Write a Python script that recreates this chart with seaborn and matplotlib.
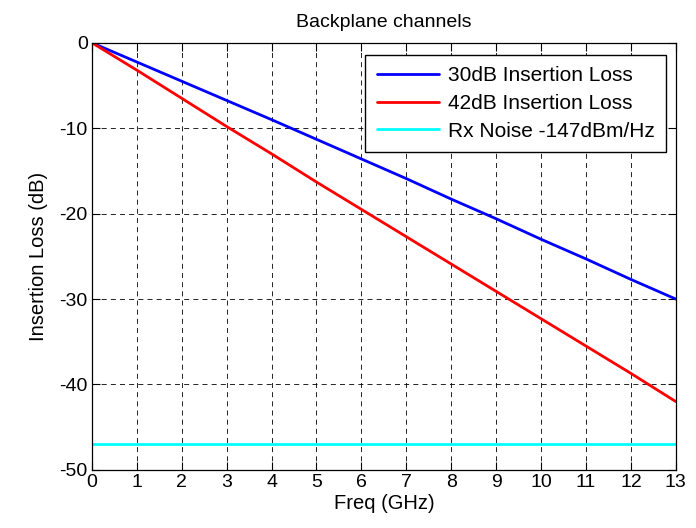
import numpy as np
import pandas as pd
import seaborn as sns
import matplotlib.pyplot as plt

freq = [0, 1, 2, 3, 4, 5, 6, 7, 8, 9, 10, 11, 12, 13]
loss_30db = [0, -2.25, -4.5, -6.75, -9.0, -11.3, -13.6, -15.9, -18.3, -20.6, -23.0, -25.3, -27.7, -30.0]
loss_42db = [0, -3.2, -6.5, -9.8, -13.0, -16.3, -19.5, -22.7, -25.9, -29.1, -32.3, -35.5, -38.7, -42.0]
noise_level = [-47] * len(freq)
labels = ['30dB Insertion Loss', '42dB Insertion Loss', 'Rx Noise -147dBm/Hz']
colors = ['#0000ff', '#ff0000', '#00ffff']

df = pd.DataFrame({
    'freq': freq * 3,
    'loss': loss_30db + loss_42db + noise_level,
    'series': [labels[0]] * len(freq) + [labels[1]] * len(freq) + [labels[2]] * len(freq),
})

sns.set_style('ticks')
plt.rcParams['font.family'] = ['Liberation Sans', 'DejaVu Sans']
plt.rcParams['axes.unicode_minus'] = False
plt.rcParams['text.color'] = 'black'
plt.rcParams['axes.labelcolor'] = 'black'
plt.rcParams['xtick.color'] = 'black'
plt.rcParams['ytick.color'] = 'black'

fig = plt.figure(figsize=(6.96, 5.28), dpi=100)
ax = fig.add_axes([0.132, 0.110, 0.839, 0.809])

sns.lineplot(data=df, x='freq', y='loss', hue='series', palette=colors,
             hue_order=labels, linewidth=2, ax=ax, legend=True)

ax.set_xlim(0, 13)
ax.set_ylim(-50, 0)
ax.set_xticks(range(0, 14))
ax.set_yticks(range(-50, 1, 10))
ax.grid(True, color='black', linestyle=(0, (6, 5)), linewidth=0.6)
ax.tick_params(direction='in', top=True, right=True, length=6, width=0.8, labelsize=14, pad=3)
for s in ax.spines.values():
    s.set_color('black')
    s.set_linewidth(0.9)

ax.set_title('Backplane channels', fontsize=14, pad=11)
ax.set_xlabel('Freq (GHz)', fontsize=14.5, labelpad=2)
ax.set_ylabel('Insertion Loss (dB)', fontsize=14.5, labelpad=8)

leg = ax.legend(loc='upper right', frameon=True, fancybox=False, fontsize=15,
                edgecolor='black', framealpha=1, handlelength=3.0, handletextpad=0.4,
                bbox_to_anchor=(0.983, 0.972), borderaxespad=0, labelspacing=0.42,
                borderpad=0.55)
leg.get_frame().set_linewidth(1.0)

fig.savefig('out.png', dpi=100)
